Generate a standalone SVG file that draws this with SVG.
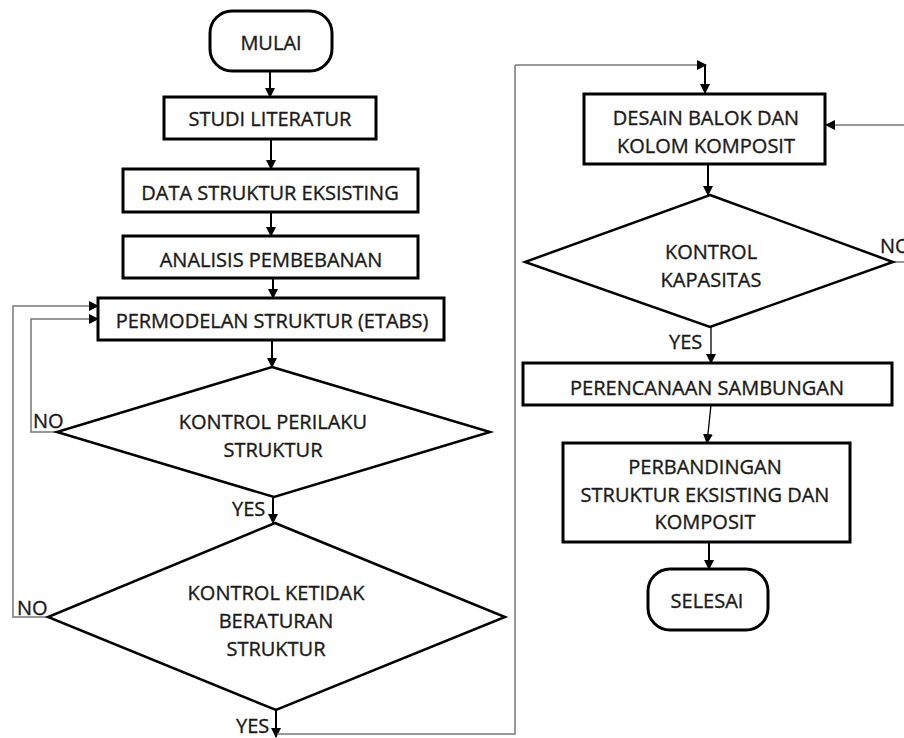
<svg xmlns="http://www.w3.org/2000/svg" width="904" height="738" viewBox="0 0 904 738">
<defs>
<style>
.box{fill:#fff;stroke:#000;stroke-width:3}
.dia{fill:#fff;stroke:#000;stroke-width:2.5}
.t{font-family:"Open Sans","Liberation Sans",sans-serif;font-size:20px;fill:#1a1a1a;stroke:#1a1a1a;stroke-width:0.35;text-anchor:middle}
.l{font-family:"Open Sans","Liberation Sans",sans-serif;font-size:20px;fill:#1a1a1a;stroke:#1a1a1a;stroke-width:0.35}
.a{fill:none;stroke:#000;stroke-width:2;marker-end:url(#ah)}
.a1{fill:none;stroke:#000;stroke-width:1.3;marker-end:url(#ah)}
.g{fill:none;stroke:#777;stroke-width:1.5}
.ga{fill:none;stroke:#777;stroke-width:1.5;marker-end:url(#ah)}
</style>
<marker id="ah" viewBox="0 0 10 10" refX="9" refY="5" markerWidth="10" markerHeight="10" markerUnits="userSpaceOnUse" orient="auto">
<path d="M0,0 L10,5 L0,10 z" fill="#000"/>
</marker>
</defs>
<rect width="904" height="738" fill="#fff"/>
<g id="connectors">
<line class="a" x1="270" y1="71" x2="270" y2="97"/>
<line class="a" x1="271" y1="139" x2="271" y2="169"/>
<line class="a" x1="271" y1="212" x2="271" y2="236"/>
<line class="a" x1="273" y1="278" x2="273" y2="298"/>
<line class="a" x1="272" y1="340" x2="272" y2="367"/>
<line class="a" x1="273" y1="497" x2="273" y2="523"/>
<line class="a" x1="276" y1="710" x2="276" y2="737"/>
<polyline class="g" points="277,734 515,734 515,65"/>
<line class="ga" x1="515" y1="65" x2="706" y2="65"/>
<line class="a" x1="705" y1="65" x2="705" y2="93"/>
<line class="a" x1="708" y1="164" x2="708" y2="195"/>
<line class="a1" x1="711" y1="327" x2="711" y2="363"/>
<line class="a1" x1="711" y1="405" x2="707" y2="443"/>
<line class="a" x1="709" y1="542" x2="709" y2="569"/>
<polyline class="ga" points="57,432 31,432 31,319 98,319"/>
<polyline class="ga" points="48,617 13,617 13,306 98,306"/>
<polyline class="ga" points="893,262 912,262 912,125 826,125"/>
</g>
<g id="mulai">
<rect class="box" x="210" y="11" width="122" height="60" rx="22"/>
<text class="t" x="271" y="50">MULAI</text>
</g>
<g id="studi">
<rect class="box" x="164" y="97" width="212" height="42"/>
<text class="t" x="270" y="126">STUDI LITERATUR</text>
</g>
<g id="data">
<rect class="box" x="123" y="169" width="295" height="43"/>
<text class="t" x="270" y="200">DATA STRUKTUR EKSISTING</text>
</g>
<g id="analisis">
<rect class="box" x="123" y="236" width="295" height="42"/>
<text class="t" x="271" y="267">ANALISIS PEMBEBANAN</text>
</g>
<g id="permodelan">
<rect class="box" x="98" y="298" width="346" height="42"/>
<text class="t" x="272" y="328">PERMODELAN STRUKTUR (ETABS)</text>
</g>
<g id="kontrol-perilaku">
<polygon class="dia" points="272,367 490,432 274,497 57,432"/>
<text class="t" x="273" y="429">KONTROL PERILAKU</text>
<text class="t" x="273" y="457">STRUKTUR</text>
</g>
<g id="kontrol-ketidak">
<polygon class="dia" points="275,523 505,617 276,710 48,617"/>
<text class="t" x="276" y="600">KONTROL KETIDAK</text>
<text class="t" x="276" y="628">BERATURAN</text>
<text class="t" x="276" y="656">STRUKTUR</text>
</g>
<g id="desain">
<rect class="box" x="584" y="94" width="241" height="70"/>
<text class="t" x="706" y="125">DESAIN BALOK DAN</text>
<text class="t" x="706" y="153">KOLOM KOMPOSIT</text>
</g>
<g id="kontrol-kapasitas">
<polygon class="dia" points="710,195 893,262 710,327 525,262"/>
<text class="t" x="711" y="259">KONTROL</text>
<text class="t" x="711" y="287">KAPASITAS</text>
</g>
<g id="perencanaan">
<rect class="box" x="523" y="363" width="369" height="42"/>
<text class="t" x="707" y="395">PERENCANAAN SAMBUNGAN</text>
</g>
<g id="perbandingan">
<rect class="box" x="563" y="443" width="287" height="99"/>
<text class="t" x="705" y="474">PERBANDINGAN</text>
<text class="t" x="705" y="502">STRUKTUR EKSISTING DAN</text>
<text class="t" x="705" y="529">KOMPOSIT</text>
</g>
<g id="selesai">
<rect class="box" x="648" y="569" width="120" height="61" rx="22"/>
<text class="t" x="707" y="608">SELESAI</text>
</g>
<g id="labels">
<text class="l" x="33" y="428">NO</text>
<text class="l" x="17" y="615">NO</text>
<text class="l" x="880" y="253">NO</text>
<text class="l" x="232" y="516">YES</text>
<text class="l" x="236" y="733">YES</text>
<text class="l" x="669" y="349">YES</text>
</g>
</svg>
